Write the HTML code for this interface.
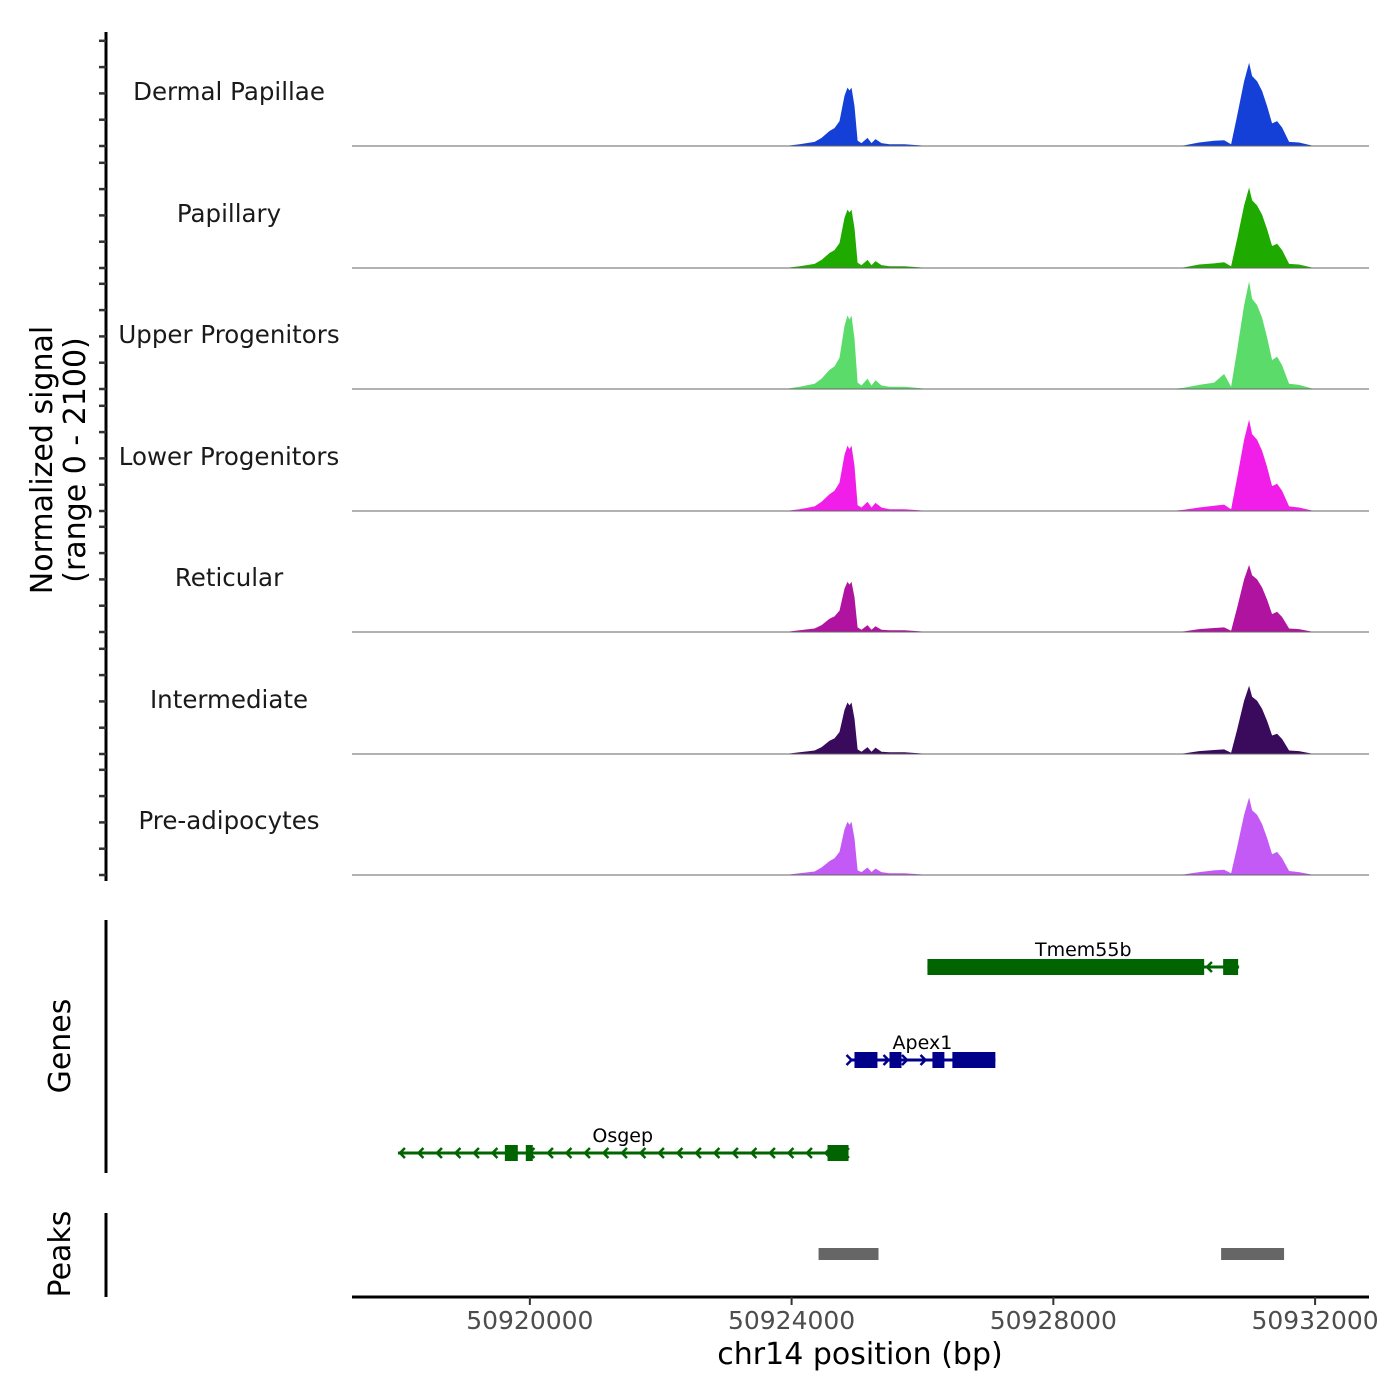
<!DOCTYPE html>
<html><head><meta charset="utf-8"><style>
html,body{margin:0;padding:0;background:#fff;}
svg{display:block;font-family:"DejaVu Sans","Liberation Sans",sans-serif;}
</style></head><body>
<svg id="chart" width="1400" height="1400" viewBox="0 0 1400 1400" xmlns="http://www.w3.org/2000/svg">
<rect width="1400" height="1400" fill="#fff"/>
<g id="tracks"></g>
<g id="genes"></g>
<g id="peaks"></g>
<g id="axes"></g>
<text transform="translate(52,460) rotate(-90)" text-anchor="middle" font-size="30" fill="#000">Normalized signal</text>
<text transform="translate(85,460) rotate(-90)" text-anchor="middle" font-size="30" fill="#000">(range 0 - 2100)</text>
<text transform="translate(70,1046) rotate(-90)" text-anchor="middle" font-size="30" fill="#000">Genes</text>
<text transform="translate(70,1254) rotate(-90)" text-anchor="middle" font-size="30" fill="#000">Peaks</text>
<text x="860" y="1364" text-anchor="middle" font-size="30" fill="#000">chr14 position (bp)</text>
</svg>
<script>
const trackNames = ["Dermal Papillae","Papillary","Upper Progenitors","Lower Progenitors","Reticular","Intermediate","Pre-adipocytes"];
const trackColors = ["#1540d8","#1faa00","#5bdc6a","#f01ee8","#b0139f","#3a0a5c","#c45af5"];
const positions = [50917282,50923900,50924122,50924351,50924458,50924580,50924656,50924732,50924809,50924855,50924885,50924916,50924962,50925008,50925069,50925160,50925221,50925282,50925374,50925496,50925725,50926107,
50929800,50929999,50930228,50930457,50930610,50930717,50930809,50930916,50930992,50931038,50931114,50931190,50931267,50931343,50931419,50931496,50931603,50931755,50931984,50932824];
const sigDermal = [0,0,30,70,140,260,310,430,870,1010,960,1010,690,90,50,140,50,120,50,30,30,0, 0,10,60,90,100,30,520,1120,1440,1210,1120,950,690,390,430,320,70,60,0,0];
const sigPapillary = [0,0,30,70,140,260,310,430,870,1010,960,1010,690,90,50,140,50,120,50,30,30,0, 0,10,60,80,100,30,500,1080,1390,1170,1080,920,670,380,420,310,70,60,0,0];
const sigUpper = [0,0,40,90,180,330,390,540,1090,1270,1200,1270,870,110,60,180,60,150,60,40,40,0, 0,20,70,110,260,40,670,1450,1860,1560,1450,1230,890,500,560,410,90,70,0,0];
const sigLower = [0,0,30,80,160,290,350,490,970,1130,1070,1130,780,100,60,160,60,140,60,30,30,0, 0,20,60,90,110,30,570,1230,1580,1330,1230,1040,760,430,470,350,80,60,0,0];
const sigReticular = [0,0,30,60,120,230,270,370,750,870,820,870,600,80,40,120,40,100,40,30,30,0, 0,10,50,70,80,20,420,910,1160,980,910,770,560,310,350,260,60,50,0,0];
const sigIntermediate = [0,0,30,60,120,230,270,380,760,890,840,890,610,80,40,120,40,110,40,30,30,0, 0,10,50,70,80,20,420,920,1180,990,920,780,570,320,350,260,60,50,0,0];
const sigPre = [0,0,30,60,130,240,290,400,790,920,870,920,630,80,50,130,50,110,50,30,30,0, 0,10,50,80,90,30,480,1040,1340,1120,1040,880,640,360,400,290,70,50,0,0];
const signals = [sigDermal,sigPapillary,sigUpper,sigLower,sigReticular,sigIntermediate,sigPre];
const xTicks = [50920000,50924000,50928000,50932000];
const xTickLabels = ["50920000","50924000","50928000","50932000"];
const geneNames = ["Tmem55b","Apex1","Osgep"];
const geneStrands = [-1,1,-1];
const geneStarts = [50926076,50924885,50917984];
const geneEnds = [50930839,50927114,50924854];
const geneExons = [
 [[50926076,50930305],[50930595,50930824]],
 [[50924961,50925312],[50925496,50925679],[50926152,50926335],[50926457,50927114]],
 [[50919618,50919816],[50919938,50920045],[50924549,50924870]]
];
const geneColors = ["#006400","#00008b","#006400"];
const peakStarts = [50924412,50930564];
const peakEnds = [50925328,50931526];

const NS="http://www.w3.org/2000/svg";
const X0=352,X1=1369,BP0=50917282,BP1=50932824;
const xs = bp => X0+(bp-BP0)/(BP1-BP0)*(X1-X0);
const baselines=[146,268,389,511,632,754,875];
const ys = (v,i) => baselines[i]-v*121.5/2100;
function mk(tag,attrs,parent){const e=document.createElementNS(NS,tag);for(const k in attrs)e.setAttribute(k,attrs[k]);parent.appendChild(e);return e;}
const tracks=document.getElementById('tracks');
signals.forEach((s,i)=>{
  let d=`M${xs(positions[0])},${baselines[i]}`;
  positions.forEach((p,j)=>{d+=`L${xs(p).toFixed(1)},${ys(s[j],i).toFixed(1)}`;});
  d+=`L${xs(positions[positions.length-1])},${baselines[i]}Z`;
  const a=mk('path',{d:d,fill:trackColors[i]},tracks);
  
  
  const b=mk('line',{x1:X0,x2:X1,y1:baselines[i],y2:baselines[i],stroke:'#666','stroke-width':1},tracks);
  
  
  const t=mk('text',{x:229,y:baselines[i]-46,'text-anchor':'middle','font-size':24.5,fill:'#1a1a1a'},tracks);
  t.textContent=trackNames[i];
  
  
});
const axes=document.getElementById('axes');
mk('line',{x1:106,x2:106,y1:32,y2:881,stroke:'#000','stroke-width':3},axes);
baselines.forEach((b,i)=>{for(let k=0;k<5;k++){const y=b-k*26.3;const tk=mk('line',{x1:99,x2:106,y1:y,y2:y,stroke:'#333','stroke-width':2.5},axes);
 
 }});
mk('line',{x1:106,x2:106,y1:920,y2:1173,stroke:'#000','stroke-width':3},axes);
mk('line',{x1:106,x2:106,y1:1213,y2:1297,stroke:'#000','stroke-width':3},axes);
mk('line',{x1:352,x2:1369,y1:1297,y2:1297,stroke:'#000','stroke-width':3},axes);
xTicks.forEach((v,i)=>{
  const tk=mk('line',{x1:xs(v),x2:xs(v),y1:1297,y2:1305,stroke:'#333','stroke-width':2},axes);
  
  
  const t=mk('text',{x:xs(v),y:1329,'text-anchor':'middle','font-size':25,fill:'#4d4d4d'},axes);
  t.textContent=xTickLabels[i];
  
  
});
const genes=document.getElementById('genes');
const laneY=[967,1060,1153];
geneNames.forEach((n,i)=>{
  const g=mk('g',{},genes);
  
  
  const y=laneY[i],c=geneColors[i];
  const x1=xs(geneStarts[i]),x2=xs(geneEnds[i]);
  mk('line',{x1:x1,x2:x2,y1:y,y2:y,stroke:c,'stroke-width':3},g);
  for(let x=x1+2;x<x2-2;x+=18.5){
    const dx=-geneStrands[i]*5;
    mk('polyline',{points:`${x+dx},${y-5} ${x},${y} ${x+dx},${y+5}`,fill:'none',stroke:c,'stroke-width':2.5},g);
  }
  geneExons[i].forEach(e=>{mk('rect',{x:xs(e[0]),y:y-8,width:xs(e[1])-xs(e[0]),height:16,fill:c},g);});
  const t=mk('text',{x:(x1+x2)/2,y:y-11,'text-anchor':'middle','font-size':19,fill:'#000'},g);
  t.textContent=n;
  
  
});
const peaks=document.getElementById('peaks');
peakStarts.forEach((s,i)=>{
  const r=mk('rect',{x:xs(s),y:1248,width:xs(peakEnds[i])-xs(s),height:12,fill:'#666'},peaks);
  
  
});
</script>
</body></html>
